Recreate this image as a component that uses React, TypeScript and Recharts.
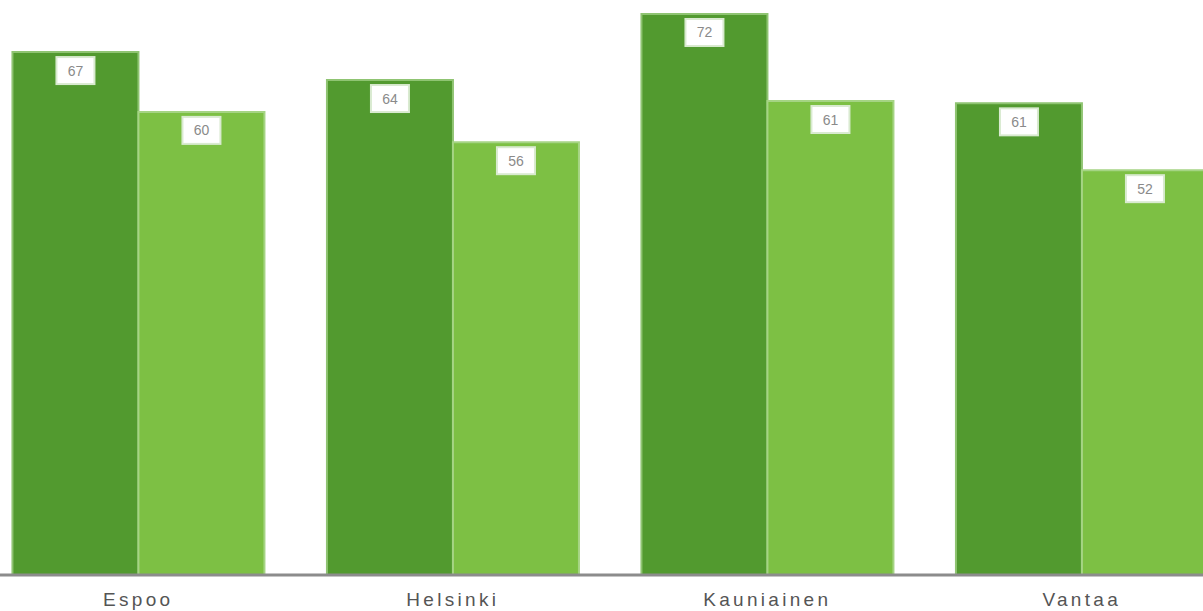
import React from 'react';
import { Bar, BarChart, LabelList, XAxis, YAxis } from 'recharts';

const CATEGORIES = ['Espoo', 'Helsinki', 'Kauniainen', 'Vantaa'];
const SERIES_A = [67.3, 63.7, 72.2, 60.7];
const SERIES_B = [59.6, 55.7, 61.0, 52.1];
const Y_DOMAIN: [number, number] = [0, 74];

const data = CATEGORIES.map((name, i) => ({ name, a: SERIES_A[i], b: SERIES_B[i] }));

const ValueBox = (props: any) => {
  const { x, y, width, value } = props;
  const cx = x + width / 2;
  const w = 38;
  const h = 27;
  const top = y + 5;
  return (
    <g>
      <rect x={cx - w / 2} y={top} width={w} height={h} fill="#ffffff" stroke="#d9ead0" strokeWidth={2} />
      <text x={cx} y={top + h / 2 + 5} textAnchor="middle" fill="#8a8a8a" fontSize={14} fontFamily="Arial, 'Liberation Sans', sans-serif">
        {Math.round(value)}
      </text>
    </g>
  );
};

export default function App() {
  return (
    <div style={{ position: 'fixed', left: 0, top: 0, width: 1203, height: 611, overflow: 'hidden', background: '#fff' }}>
      <div style={{ position: 'absolute', left: -19, top: 0 }}>
        <BarChart
          width={1258}
          height={611}
          data={data}
          margin={{ top: 0, right: 0, left: 0, bottom: 0 }}
          barCategoryGap="10%"
          barGap={0}
        >
          <XAxis
            dataKey="name"
            height={36}
            tickLine={false}
            tickSize={0}
            tickMargin={18}
            axisLine={{ stroke: '#8c8c8c', strokeWidth: 3 }}
            tick={{ fill: '#555555', fontSize: 19, letterSpacing: 3.3, fontFamily: "Arial, 'Liberation Sans', sans-serif" }}
            interval={0}
          />
          <YAxis hide domain={Y_DOMAIN} />
          <Bar dataKey="a" fill="#529a2f" stroke="#8fc472" strokeWidth={2} isAnimationActive={false}>
            <LabelList dataKey="a" content={ValueBox} />
          </Bar>
          <Bar dataKey="b" fill="#7dc044" stroke="#a5d484" strokeWidth={2} isAnimationActive={false}>
            <LabelList dataKey="b" content={ValueBox} />
          </Bar>
        </BarChart>
      </div>
    </div>
  );
}
